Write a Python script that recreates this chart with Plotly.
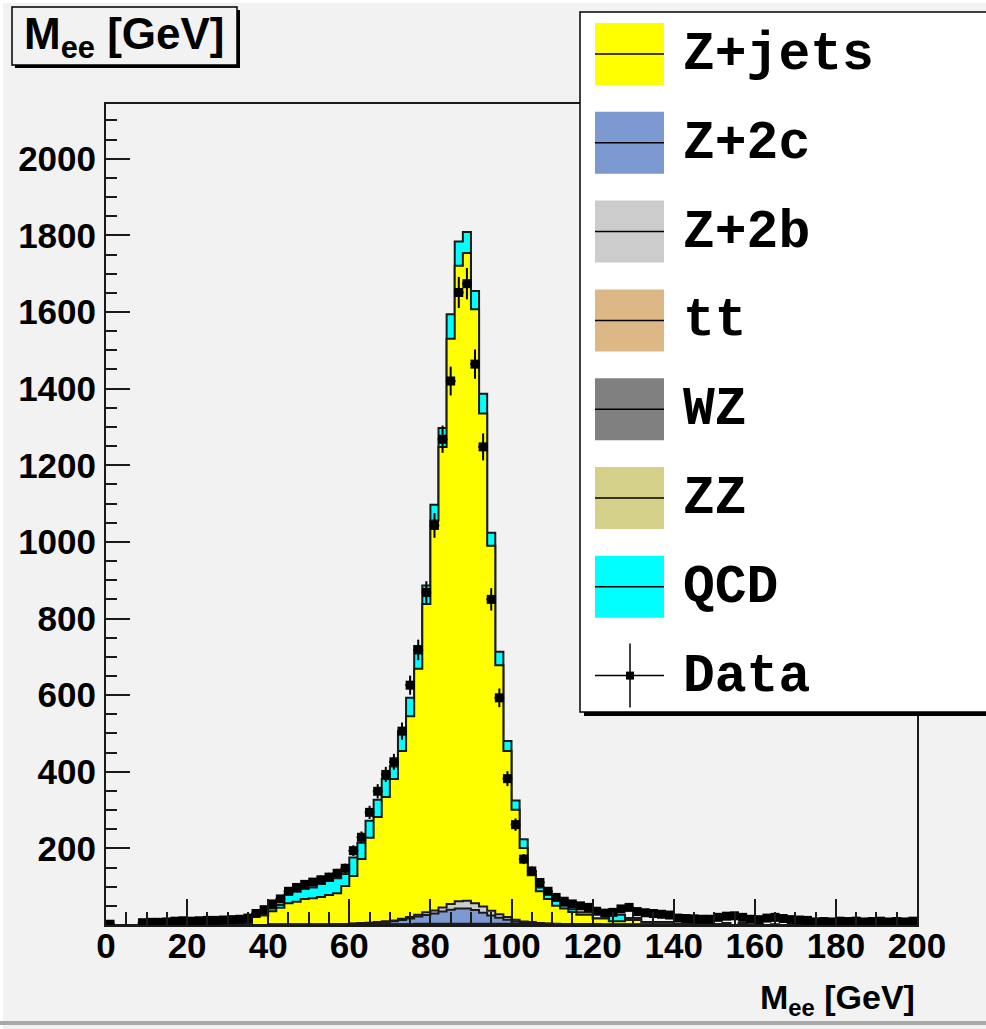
import numpy as np
import plotly.graph_objects as go

# ---- binning: 100 bins of 2 GeV from 0 to 200 ----
bin_edges = np.arange(0, 202, 2)
bin_centers = bin_edges[:-1] + 1

# ---- MC components (events per 2 GeV bin) ----
zjets = [
    0, 0, 0, 0, 0, 0, 0, 0, 0, 0,
    0, 0, 0, 0, 0, 3, 2, 5, 24, 25,
    35, 44, 56, 60, 67, 69, 72, 77, 81, 100,
    124, 167, 222, 274, 324, 369, 438, 524, 642, 805,
    1018, 1202, 1475, 1659, 1691, 1550, 1287, 953, 650, 433,
    287, 192, 122, 83, 64, 47, 41, 32, 25, 25,
    15, 16, 9, 9, 12, 12, 7, 7, 7, 7,
    1, 1, 1, 1, 1, 0, 1, 0, 1, 0,
    1, 0, 1, 0, 0, 1, 0, 0, 0, 0,
    0, 0, 0, 0, 0, 0, 0, 0, 0, 0,
]
z2c = [
    0, 0, 0, 0, 0, 0, 0, 0, 0, 0,
    0, 0, 0, 0, 0, 0, 0, 0, 0, 0,
    0, 0, 0, 0, 0, 0, 0, 0, 1, 1,
    1, 2, 3, 4, 6, 8, 11, 15, 19, 23,
    27, 32, 37, 40, 40, 36, 29, 22, 16, 11,
    6, 3, 2, 1, 1, 0, 0, 0, 0, 0,
    0, 0, 0, 0, 0, 0, 0, 0, 0, 0,
    0, 0, 0, 0, 0, 0, 0, 0, 0, 0,
    0, 0, 0, 0, 0, 0, 0, 0, 0, 0,
    0, 0, 0, 0, 0, 0, 0, 0, 0, 0,
]
z2b = [
    0, 0, 0, 0, 0, 0, 0, 0, 0, 0,
    0, 0, 0, 0, 0, 0, 0, 0, 0, 0,
    0, 0, 0, 0, 0, 0, 0, 0, 0, 0,
    1, 1, 1, 2, 2, 2, 3, 4, 5, 7,
    8, 11, 15, 19, 20, 18, 16, 12, 9, 7,
    5, 3, 3, 1, 1, 1, 0, 0, 0, 0,
    0, 0, 0, 0, 0, 0, 0, 0, 0, 0,
    0, 0, 0, 0, 0, 0, 0, 0, 0, 0,
    0, 0, 0, 0, 0, 0, 0, 0, 0, 0,
    0, 0, 0, 0, 0, 0, 0, 0, 0, 0,
]
ttbar = [
    0, 0, 0, 0, 0, 0, 0, 0, 0, 0,
    0, 0, 0, 0, 0, 0, 0, 0, 0, 0,
    1, 1, 1, 1, 1, 1, 1, 1, 1, 1,
    1, 1, 1, 1, 1, 1, 1, 1, 1, 1,
    1, 1, 1, 1, 1, 1, 1, 1, 1, 1,
    1, 1, 1, 1, 1, 1, 1, 1, 1, 1,
    1, 1, 1, 1, 1, 1, 1, 1, 1, 1,
    1, 1, 1, 1, 1, 1, 0, 0, 0, 0,
    0, 0, 0, 0, 0, 0, 0, 0, 0, 0,
    0, 0, 0, 0, 0, 0, 0, 0, 0, 0,
]
wz = [
    0, 0, 0, 0, 0, 0, 0, 0, 0, 0,
    0, 0, 0, 0, 0, 0, 0, 0, 0, 0,
    0, 0, 0, 0, 0, 0, 0, 0, 0, 0,
    1, 1, 1, 1, 1, 1, 1, 1, 1, 1,
    1, 1, 1, 1, 1, 1, 1, 1, 1, 1,
    1, 1, 1, 1, 1, 1, 1, 1, 1, 1,
    1, 0, 0, 0, 0, 0, 0, 0, 0, 0,
    0, 0, 0, 0, 0, 0, 0, 0, 0, 0,
    0, 0, 0, 0, 0, 0, 0, 0, 0, 0,
    0, 0, 0, 0, 0, 0, 0, 0, 0, 0,
]
zz = [
    0, 0, 0, 0, 0, 0, 0, 0, 0, 0,
    0, 0, 0, 0, 0, 0, 0, 0, 0, 0,
    0, 0, 0, 0, 0, 0, 0, 0, 0, 0,
    0, 0, 0, 0, 0, 0, 0, 0, 1, 1,
    1, 1, 1, 1, 1, 1, 1, 1, 1, 1,
    1, 1, 1, 1, 0, 0, 0, 0, 0, 0,
    0, 0, 0, 0, 0, 0, 0, 0, 0, 0,
    0, 0, 0, 0, 0, 0, 0, 0, 0, 0,
    0, 0, 0, 0, 0, 0, 0, 0, 0, 0,
    0, 0, 0, 0, 0, 0, 0, 0, 0, 0,
]
qcd = [
    0, 0, 0, 0, 0, 0, 0, 0, 0, 0,
    0, 0, 0, 0, 0, 0, 0, 1, 0, 1,
    7, 7, 23, 26, 26, 28, 34, 37, 39, 31,
    48, 43, 44, 45, 47, 33, 52, 48, 59, 48,
    41, 49, 64, 63, 55, 48, 52, 34, 35, 26,
    24, 23, 10, 10, 14, 15, 7, 7, 6, 6,
    0, 0, 17, 17, 5, 5, 0, 0, 0, 0,
    0, 0, 0, 0, 0, 0, 4, 0, 4, 0,
    0, 0, 0, 0, 0, 0, 0, 0, 0, 0,
    0, 0, 0, 0, 0, 0, 0, 0, 0, 0,
]

# ---- observed data (events per 2 GeV bin) ----
data = [
    2, 0, 0, 0, 6, 7, 7, 8, 10, 11,
    10, 11, 12, 12, 13, 14, 15, 18, 30, 40,
    55, 68, 88, 98, 106, 112, 118, 125, 135, 148,
    194, 229, 294, 349, 393, 426, 506, 626, 718, 868,
    1043, 1268, 1420, 1651, 1674, 1464, 1248, 850, 593, 382,
    262, 172, 141, 111, 88, 72, 62, 55, 50, 46,
    36, 31, 33, 42, 46, 35, 32, 30, 28, 26,
    18, 17, 16, 15, 15, 20, 23, 24, 20, 15,
    14, 18, 20, 17, 14, 13, 12, 8, 9, 8,
    10, 9, 10, 8, 9, 10, 8, 9, 8, 10,
]

# legend order and fill colours
legend_names = ["Z+jets", "Z+2c", "Z+2b", "tt", "WZ", "ZZ", "QCD"]
fill_colors = {
    "Z+jets": "#ffff00",
    "Z+2c": "#7d99d1",
    "Z+2b": "#cccccc",
    "tt": "#ddb887",
    "WZ": "#808080",
    "ZZ": "#d5d08a",
    "QCD": "#00ffff",
}
components = {
    "Z+jets": zjets, "Z+2c": z2c, "Z+2b": z2b, "tt": ttbar,
    "WZ": wz, "ZZ": zz, "QCD": qcd,
}
# stacking order, bottom to top
stack_order = ["ZZ", "WZ", "tt", "Z+2c", "Z+2b", "Z+jets", "QCD"]

BG = "#f2f2f2"
INK = "#1a1a1a"

fig = go.Figure()

# cumulative stack: draw the full sum first, then each lower partial sum on top
cum = np.zeros(len(bin_centers))
levels = []
for name in stack_order:
    cum = cum + np.array(components[name], dtype=float)
    levels.append((name, cum.copy()))
for name, level in reversed(levels):
    fig.add_trace(go.Scatter(
        x=bin_edges,
        y=np.append(level, level[-1]),
        mode="lines",
        line=dict(shape="hv", color=INK, width=2),
        fill="tozeroy",
        fillcolor=fill_colors[name],
        hoverinfo="skip",
    ))

# data points with Poisson errors
d = np.array(data, dtype=float)
mask = d > 0
fig.add_trace(go.Scatter(
    x=bin_centers[mask],
    y=d[mask],
    mode="markers",
    marker=dict(symbol="square", size=9, color="black"),
    error_y=dict(type="data", array=np.sqrt(d[mask]), thickness=2, width=0, color="black"),
    error_x=dict(type="constant", value=1.2, thickness=2, width=0, color="black"),
    hoverinfo="skip",
))

# ---- page geometry helpers (pixels -> paper) ----
W, H = 986, 1029
L, R, T, B = 106, 917, 104, 925


def px(x):
    return (x - L) / (R - L)


def py(y):
    return (B - y) / (B - T)


shapes = []
annotations = []

# canvas bevel
shapes.append(dict(type="rect", xref="paper", yref="paper", x0=px(0), x1=px(W), y0=py(0), y1=py(3),
                   fillcolor="white", line_width=0, layer="below"))
shapes.append(dict(type="rect", xref="paper", yref="paper", x0=px(0), x1=px(3), y0=py(0), y1=py(H),
                   fillcolor="white", line_width=0, layer="below"))
shapes.append(dict(type="rect", xref="paper", yref="paper", x0=px(0), x1=px(W), y0=py(1021), y1=py(1025),
                   fillcolor="#a8a8a8", line_width=0, layer="below"))

# title box with shadow
shapes.append(dict(type="rect", xref="paper", yref="paper", x0=px(15), x1=px(240), y0=py(10), y1=py(68),
                   fillcolor="black", line_width=0, layer="above"))
shapes.append(dict(type="rect", xref="paper", yref="paper", x0=px(12), x1=px(237), y0=py(7), y1=py(65),
                   fillcolor=BG, line=dict(color="black", width=1.5), layer="above"))
annotations.append(dict(xref="paper", yref="paper", x=px(124), y=py(37), xanchor="center", yanchor="middle",
                        text="<b>M<sub>ee</sub> [GeV]</b>", showarrow=False,
                        font=dict(family="Liberation Sans", size=44, color="black")))

# legend box with shadow
shapes.append(dict(type="rect", xref="paper", yref="paper", x0=px(584), x1=px(1000), y0=py(16), y1=py(716),
                   fillcolor="black", line_width=0, layer="above"))
shapes.append(dict(type="rect", xref="paper", yref="paper", x0=px(580), x1=px(996), y0=py(12), y1=py(712),
                   fillcolor="white", line=dict(color="black", width=1.5), layer="above"))

row0, row_step = 54, 88.8
for i, name in enumerate(legend_names):
    yc = row0 + i * row_step
    shapes.append(dict(type="rect", xref="paper", yref="paper", x0=px(595), x1=px(664),
                       y0=py(yc - 31), y1=py(yc + 31), fillcolor=fill_colors[name], line_width=0, layer="above"))
    shapes.append(dict(type="line", xref="paper", yref="paper", x0=px(595), x1=px(664),
                       y0=py(yc), y1=py(yc), line=dict(color="black", width=1.5), layer="above"))
    annotations.append(dict(xref="paper", yref="paper", x=px(681), y=py(yc + 1), xanchor="left", yanchor="middle",
                            text=name, showarrow=False,
                            font=dict(family="Liberation Mono", size=53, color="black", weight="bold")))

# data entry in legend
yc = row0 + len(legend_names) * row_step
shapes.append(dict(type="line", xref="paper", yref="paper", x0=px(595), x1=px(664), y0=py(yc), y1=py(yc),
                   line=dict(color="black", width=1.5), layer="above"))
shapes.append(dict(type="line", xref="paper", yref="paper", x0=px(630), x1=px(630), y0=py(yc - 32), y1=py(yc + 32),
                   line=dict(color="black", width=1.5), layer="above"))
shapes.append(dict(type="rect", xref="paper", yref="paper", x0=px(626), x1=px(634), y0=py(yc - 4), y1=py(yc + 4),
                   fillcolor="black", line_width=0, layer="above"))
annotations.append(dict(xref="paper", yref="paper", x=px(681), y=py(yc + 1), xanchor="left", yanchor="middle",
                        text="Data", showarrow=False,
                        font=dict(family="Liberation Mono", size=53, color="black", weight="bold")))

# x-axis title at the right end
annotations.append(dict(xref="paper", yref="paper", x=px(917), y=py(1023), xanchor="right", yanchor="bottom",
                        text="M<sub>ee</sub> [GeV]", showarrow=False,
                        font=dict(family="Liberation Sans", size=34, color="black", weight="bold")))

tick_font = dict(family="Liberation Sans", size=35, color="black", weight="bold")
x_ticks = list(range(0, 201, 20))
y_ticks = list(range(200, 2001, 200))

fig.update_layout(
    width=W, height=H,
    margin=dict(l=L, r=W - R, t=T, b=H - B, pad=0),
    paper_bgcolor=BG, plot_bgcolor=BG,
    showlegend=False, hovermode=False,
    shapes=shapes, annotations=annotations,
    xaxis=dict(
        range=[0, 200], showgrid=False, zeroline=False,
        showline=True, linecolor=INK, linewidth=2, mirror=True,
        tickmode="array", tickvals=x_ticks, ticktext=[str(v) for v in x_ticks],
        ticks="inside", ticklen=26, tickwidth=2, tickcolor=INK,
        minor=dict(tickmode="linear", tick0=0, dtick=5, ticks="inside", ticklen=13, tickwidth=2, tickcolor=INK),
        tickfont=tick_font, ticklabelstandoff=-11,
    ),
    yaxis=dict(
        range=[0, 2143], showgrid=False, zeroline=False,
        showline=True, linecolor=INK, linewidth=2, mirror=True,
        tickmode="array", tickvals=y_ticks, ticktext=[str(v) for v in y_ticks],
        ticks="inside", ticklen=24, tickwidth=2, tickcolor=INK,
        minor=dict(tickmode="linear", tick0=0, dtick=50, ticks="inside", ticklen=11, tickwidth=2, tickcolor=INK),
        tickfont=tick_font, ticklabelstandoff=1,
    ),
)

fig.write_html("out.html")
